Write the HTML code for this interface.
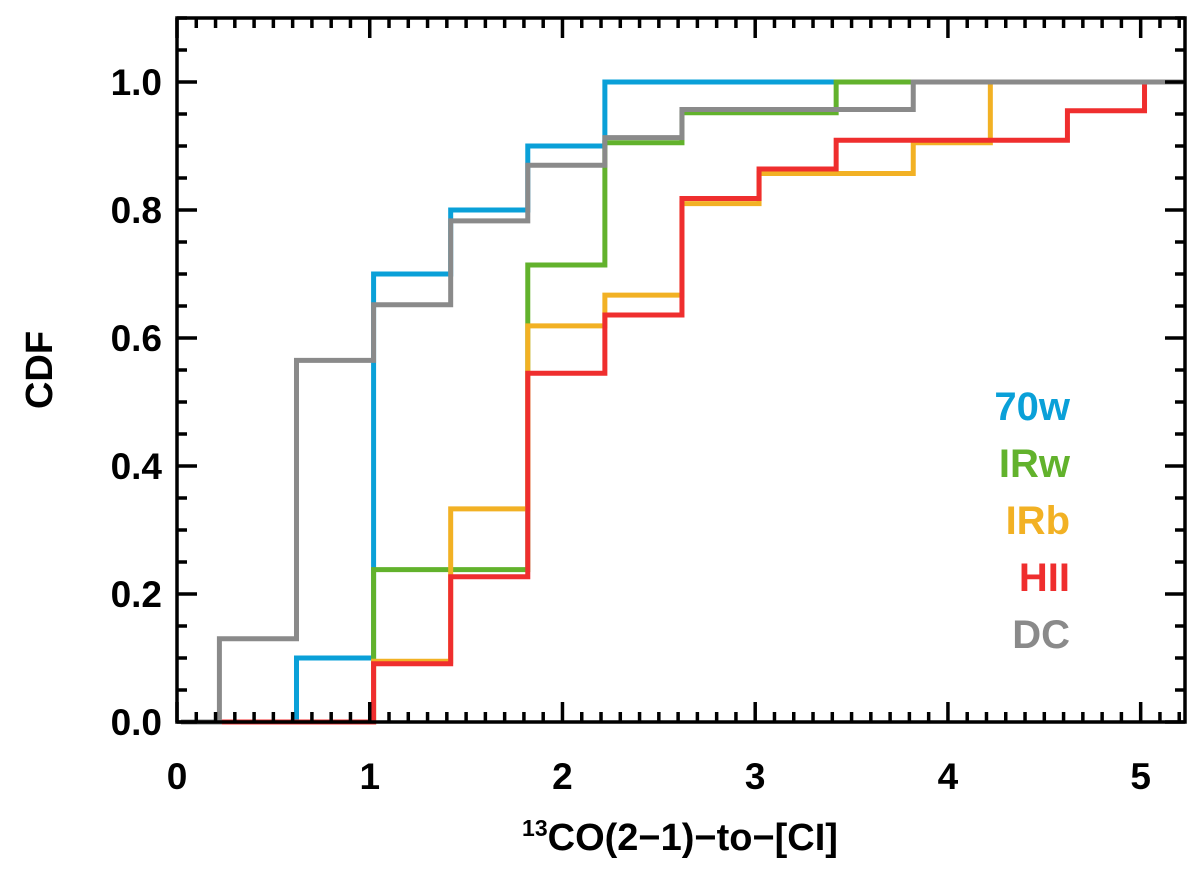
<!DOCTYPE html>
<html><head><meta charset="utf-8"><style>
html,body{margin:0;padding:0;background:#fff;}
svg{display:block;font-family:"Liberation Sans",sans-serif;}
</style></head><body>
<svg id="chart" width="1200" height="880" viewBox="0 0 1200 880"></svg>
<script>
const seriesNames = ["70w","IRw","IRb","HII","DC"];
const seriesColors = ["#0aa0d8","#62b22c","#f2b124","#ef2e2e","#8a8a8a"];
const edges = [0.22,0.62,1.02,1.42,1.82,2.22,2.62,3.02,3.42,3.82,4.22,4.62,5.02];
const cdf70w = [0,0.1,0.7,0.8,0.9,1.0,1.0,1.0,1.0];
const cdfIRw = [0,0,0.238,0.238,0.714,0.905,0.952,0.952,1.0,1.0];
const cdfIRb = [0,0,0.095,0.333,0.619,0.667,0.81,0.857,0.857,0.905,1.0];
const cdfHII = [0,0,0.091,0.227,0.545,0.636,0.818,0.864,0.909,0.909,0.909,0.955,1.0];
const cdfDC = [0.13,0.565,0.652,0.783,0.87,0.913,0.957,0.957,0.957,1.0,1.0,1.0,1.0];
const xTicks = [0,1,2,3,4,5];
const yTicks = [0,0.2,0.4,0.6,0.8,1.0];
const X0=177,X1=1185,Y0=722,Y1=18, XMAX=5.23, YMAX=1.1;
const xs=v=>X0+(X1-X0)*v/XMAX, ys=v=>Y0-(Y0-Y1)*v/YMAX;
const svg=document.getElementById('chart'), NS="http://www.w3.org/2000/svg";
function mk(t,a){const e=document.createElementNS(NS,t);for(const k in a)e.setAttribute(k,a[k]);svg.appendChild(e);return e;}
const allVals=[cdf70w,cdfIRw,cdfIRb,cdfHII,cdfDC];
allVals.forEach((vals,i)=>{
  let d="M"+(i===4?X0+4:xs(edges[0]))+","+ys(0);
  let prev=0;
  for(let j=0;j<vals.length;j++){
    const x=xs(edges[j]);
    d+=" L"+x+","+ys(prev)+" L"+x+","+ys(vals[j]);
    prev=vals[j];
  }
  if(i===4) d+=" L"+(X1-2)+","+ys(prev);
  const p=mk('path',{d:d,fill:'none',stroke:seriesColors[i],'stroke-width':5});
  
  
});
const fr=mk('rect',{x:X0,y:Y1,width:X1-X0,height:Y0-Y1,fill:'none',stroke:'#000','stroke-width':3.5});


for(let k=0;k<=52;k++){const v=k/10;const x=xs(v);const L=(k%10===0)?20:10;
  mk('line',{x1:x,y1:Y0,x2:x,y2:Y0-L,stroke:'#000','stroke-width':3.5});
  mk('line',{x1:x,y1:Y1,x2:x,y2:Y1+L,stroke:'#000','stroke-width':3.5});}
for(let k=0;k<=22;k++){const v=k*0.05;const y=ys(v);const L=(k%4===0)?20:10;
  mk('line',{x1:X0,y1:y,x2:X0+L,y2:y,stroke:'#000','stroke-width':3.5});
  mk('line',{x1:X1,y1:y,x2:X1-L,y2:y,stroke:'#000','stroke-width':3.5});}
xTicks.forEach(v=>{const t=mk('text',{x:xs(v),y:789,'text-anchor':'middle','font-size':37,'font-weight':'bold'});t.textContent=v;
  
  });
yTicks.forEach(v=>{const t=mk('text',{x:162,y:ys(v)+13,'text-anchor':'end','font-size':37,'font-weight':'bold'});t.textContent=v.toFixed(1);
  
  });
const xt=mk('text',{x:680,y:850,'text-anchor':'middle','font-size':38,'font-weight':'bold'});
xt.innerHTML='<tspan font-size="23" dy="-14">13</tspan><tspan dy="14">CO(2−1)−to−[CI]</tspan>';


const yt=mk('text',{x:0,y:0,'text-anchor':'middle','font-size':38,'font-weight':'bold',transform:'translate(52,370) rotate(-90)'});
yt.textContent='CDF';


seriesNames.forEach((n,i)=>{const t=mk('text',{x:1070,y:420+i*57,'text-anchor':'end','font-size':40,'font-weight':'bold',fill:seriesColors[i]});t.textContent=n;
  
  });
</script>
</body></html>
